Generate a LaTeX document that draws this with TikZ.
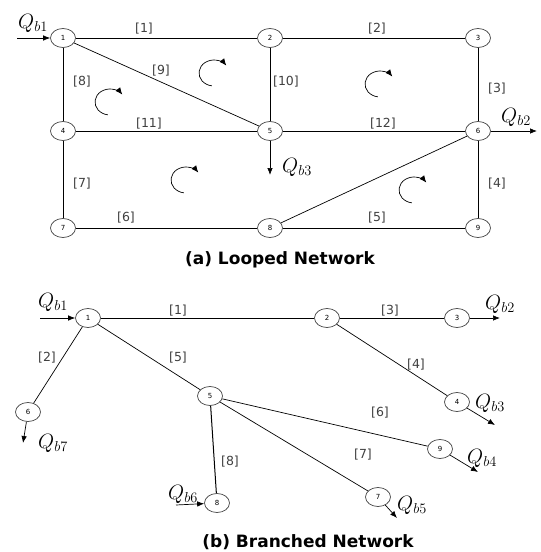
\documentclass[tikz,border=0pt]{standalone}
\usepackage{fontspec}
\setmainfont{DejaVu Sans}
\usetikzlibrary{shapes.geometric,arrows.meta}
\begin{document}
\begin{tikzpicture}[x=1pt,y=-1pt,
  nd/.style={ellipse,draw=black!75,line width=0.7pt,minimum width=25pt,minimum height=19pt,inner sep=0pt,font=\fontsize{7}{7}\selectfont,fill=white},
  pipe/.style={draw=black,line width=0.7pt},
  lab/.style={font=\fontsize{12.5}{12.5}\selectfont,text=black!75,inner sep=0pt},
  qlab/.style={font=\fontsize{21}{21}\selectfont,inner sep=0pt},
  flow/.style={draw=black,line width=0.7pt,-{Latex[length=7pt,width=5.5pt]}},
  ttl/.style={font=\fontsize{17}{17}\selectfont\bfseries,inner sep=0pt},
  looparr/.pic={\draw[line width=0.7pt,-{Latex[length=7pt,width=6pt]}] (262:15pt and 13pt) arc[start angle=262,end angle=35,x radius=15pt,y radius=13pt];}
]
\useasboundingbox (0,0) rectangle (541,552);
% ---------- (a) looped ----------
\node[nd] (a1) at (63,38) {1};
\node[nd] (a2) at (270,38) {2};
\node[nd] (a3) at (478,38) {3};
\node[nd] (a4) at (63,131) {4};
\node[nd] (a5) at (270,131) {5};
\node[nd] (a6) at (478,131) {6};
\node[nd] (a7) at (63,228) {7};
\node[nd] (a8) at (270,228) {8};
\node[nd] (a9) at (478,228) {9};
\draw[pipe] (a1) -- (a2);
\draw[pipe] (a2) -- (a3);
\draw[pipe] (a3) -- (a6);
\draw[pipe] (a6) -- (a9);
\draw[pipe] (a9) -- (a8);
\draw[pipe] (a8) -- (a7);
\draw[pipe] (a7) -- (a4);
\draw[pipe] (a4) -- (a1);
\draw[pipe] (a1) -- (a5);
\draw[pipe] (a2) -- (a5);
\draw[pipe] (a4) -- (a5);
\draw[pipe] (a5) -- (a6);
\draw[pipe] (a8) -- (a6);
\node[lab] (la1) at (144,29) {[1]};
\node[lab] (la2) at (377,29) {[2]};
\node[lab] (la3) at (497,89) {[3]};
\node[lab] (la4) at (497,184) {[4]};
\node[lab] (la5) at (377,218) {[5]};
\node[lab] (la6) at (126,218) {[6]};
\node[lab] (la7) at (82,184) {[7]};
\node[lab] (la8) at (82,82) {[8]};
\node[lab] (la9) at (161,71) {[9]};
\node[lab] (la10) at (286,82) {[10]};
\node[lab] (la11) at (149,124) {[11]};
\node[lab] (la12) at (383,124) {[12]};
\pic at (214,73) {looparr};
\pic at (110,102) {looparr};
\pic at (186,180) {looparr};
\pic at (380,84) {looparr};
\pic at (414,190) {looparr};
\coordinate (qa1s) at (17,38);
\coordinate (qa2e) at (537,131);
\coordinate (qa3e) at (270,175);
\draw[flow] (qa1s) -- (a1);
\draw[flow] (a6) -- (qa2e);
\draw[flow] (a5) -- (qa3e);
\node[qlab] (qa1) at (33,23) {$Q_{b1}$};
\node[qlab] (qa2) at (516,117) {$Q_{b2}$};
\node[qlab] (qa3) at (297,167) {$Q_{b3}$};
\node[ttl] (ta) at (280,260) {(a) Looped Network};
% ---------- (b) branched ----------
\node[nd] (b1) at (88,318) {1};
\node[nd] (b2) at (327,318) {2};
\node[nd] (b3) at (457,318) {3};
\node[nd] (b4) at (457,402) {4};
\node[nd] (b5) at (210,396) {5};
\node[nd] (b6) at (28,412) {6};
\node[nd] (b7) at (378,497) {7};
\node[nd] (b8) at (217,503) {8};
\node[nd] (b9) at (440,449) {9};
\draw[pipe] (b1) -- (b2);
\draw[pipe] (b2) -- (b3);
\draw[pipe] (b2) -- (b4);
\draw[pipe] (b1) -- (b6);
\draw[pipe] (b1) -- (b5);
\draw[pipe] (b5) -- (b9);
\draw[pipe] (b5) -- (b7);
\draw[pipe,line width=1pt] (b5) -- (b8);
\node[lab] (lb1) at (178,311) {[1]};
\node[lab] (lb2) at (47,358) {[2]};
\node[lab] (lb3) at (390,311) {[3]};
\node[lab] (lb4) at (416,365) {[4]};
\node[lab] (lb5) at (178,358) {[5]};
\node[lab] (lb6) at (380,413) {[6]};
\node[lab] (lb7) at (363,455) {[7]};
\node[lab] (lb8) at (230,462) {[8]};
\coordinate (qb1s) at (40,318);
\coordinate (qb2e) at (500,318);
\coordinate (qb3e) at (495,425);
\coordinate (qb4e) at (478,472);
\coordinate (qb5e) at (397,518);
\coordinate (qb6s) at (176,505);
\coordinate (qb7e) at (23,443);
\draw[flow] (qb1s) -- (b1);
\draw[flow] (b3) -- (qb2e);
\draw[flow] (b4) -- (qb3e);
\draw[flow] (b9) -- (qb4e);
\draw[flow] (b7) -- (qb5e);
\draw[flow] (qb6s) -- (b8);
\draw[flow] (b6) -- (qb7e);
\node[qlab] (qb1) at (53,302) {$Q_{b1}$};
\node[qlab] (qb2) at (500,304) {$Q_{b2}$};
\node[qlab] (qb3) at (490,403) {$Q_{b3}$};
\node[qlab] (qb4) at (482,458) {$Q_{b4}$};
\node[qlab] (qb5) at (412,505) {$Q_{b5}$};
\node[qlab] (qb6) at (183,494) {$Q_{b6}$};
\node[qlab] (qb7) at (53,443) {$Q_{b7}$};
\node[ttl] (tb) at (308,542) {(b) Branched Network};
\end{tikzpicture}
\end{document}
